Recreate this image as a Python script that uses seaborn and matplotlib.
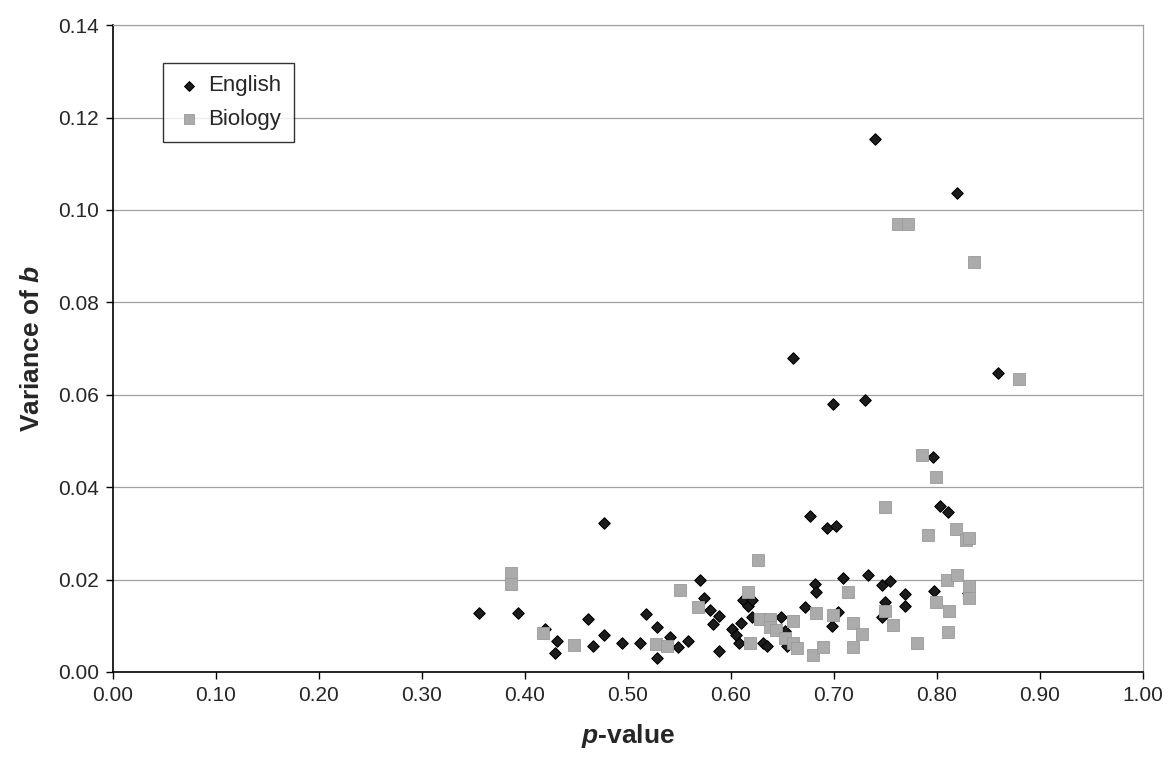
import matplotlib
matplotlib.use('Agg')
import matplotlib.pyplot as plt
import seaborn as sns
import pandas as pd

# p-value / variance of b
english_p = [0.355, 0.393, 0.420, 0.431, 0.429, 0.461, 0.466, 0.477, 0.477, 0.494,
             0.512, 0.518, 0.528, 0.528, 0.541, 0.549, 0.558, 0.570, 0.574, 0.580,
             0.589, 0.583, 0.589, 0.601, 0.605, 0.608, 0.610, 0.612, 0.617, 0.621,
             0.621, 0.631, 0.635, 0.649, 0.653, 0.655, 0.660, 0.672, 0.677, 0.682,
             0.683, 0.693, 0.698, 0.699, 0.702, 0.704, 0.709, 0.730, 0.733, 0.740,
             0.747, 0.747, 0.750, 0.755, 0.769, 0.769, 0.796, 0.797, 0.803, 0.811,
             0.820, 0.830, 0.860]
english_var = [0.0128, 0.0128, 0.0093, 0.0066, 0.0042, 0.0115, 0.0057, 0.0080, 0.0323, 0.0063,
               0.0063, 0.0125, 0.0097, 0.0030, 0.0076, 0.0054, 0.0066, 0.0199, 0.0161, 0.0134,
               0.0121, 0.0103, 0.0045, 0.0092, 0.0080, 0.0063, 0.0107, 0.0156, 0.0143, 0.0156,
               0.0118, 0.0063, 0.0056, 0.0118, 0.0089, 0.0056, 0.0679, 0.0140, 0.0338, 0.0190,
               0.0172, 0.0311, 0.0100, 0.0581, 0.0316, 0.0130, 0.0203, 0.0589, 0.0210, 0.1153,
               0.0188, 0.0118, 0.0152, 0.0197, 0.0169, 0.0143, 0.0466, 0.0176, 0.0360, 0.0347,
               0.1037, 0.0170, 0.0646]

bio_p = [0.387, 0.387, 0.418, 0.448, 0.527, 0.538, 0.551, 0.568, 0.617, 0.619,
         0.626, 0.628, 0.638, 0.638, 0.644, 0.653, 0.660, 0.660, 0.664, 0.680,
         0.683, 0.690, 0.699, 0.714, 0.719, 0.719, 0.727, 0.750, 0.750, 0.758,
         0.762, 0.772, 0.781, 0.786, 0.792, 0.799, 0.799, 0.810, 0.811, 0.812,
         0.819, 0.820, 0.828, 0.831, 0.831, 0.831, 0.836, 0.880]
bio_var = [0.0215, 0.0190, 0.0084, 0.0058, 0.0061, 0.0056, 0.0177, 0.0141, 0.0174, 0.0063,
           0.0242, 0.0114, 0.0114, 0.0098, 0.0091, 0.0073, 0.0110, 0.0062, 0.0051, 0.0037,
           0.0128, 0.0055, 0.0123, 0.0174, 0.0105, 0.0055, 0.0082, 0.0133, 0.0358, 0.0102,
           0.0970, 0.0970, 0.0063, 0.0470, 0.0296, 0.0423, 0.0152, 0.0200, 0.0087, 0.0132,
           0.0310, 0.0210, 0.0285, 0.0290, 0.0185, 0.0160, 0.0888, 0.0633]

x_ticks = [0.0, 0.1, 0.2, 0.3, 0.4, 0.5, 0.6, 0.7, 0.8, 0.9, 1.0]
y_ticks = [0.0, 0.02, 0.04, 0.06, 0.08, 0.10, 0.12, 0.14]

english = pd.DataFrame({'p': english_p, 'var': english_var})
biology = pd.DataFrame({'p': bio_p, 'var': bio_var})

sns.set_theme(style='white')
plt.rcParams['font.family'] = ['Liberation Sans', 'DejaVu Sans']
plt.rcParams['mathtext.fontset'] = 'custom'
plt.rcParams['mathtext.it'] = 'Liberation Sans:italic:bold'
plt.rcParams['mathtext.rm'] = 'Liberation Sans:bold'

fig = plt.figure(figsize=(11.7, 7.61), dpi=100)
ax = fig.add_axes([0.0966, 0.117, 0.880, 0.850])

sns.scatterplot(data=english, x='p', y='var', ax=ax, marker='D', s=34,
                color='#1c1c1c', edgecolor='#000000', linewidth=0.8,
                label='English', zorder=3)
sns.scatterplot(data=biology, x='p', y='var', ax=ax, marker='s', s=70,
                color='#ababab', edgecolor='#9a9a9a', linewidth=0.6,
                label='Biology', zorder=3)

ax.set_xlim(0, 1.0)
ax.set_ylim(0, 0.14)
ax.set_xticks(x_ticks)
ax.set_yticks(y_ticks)
ax.set_xticklabels([f'{t:.2f}' for t in x_ticks], fontsize=15)
ax.set_yticklabels([f'{t:.2f}' for t in y_ticks], fontsize=15)
ax.tick_params(axis='both', direction='out', length=5, width=1, color='black',
               bottom=True, left=True, pad=5)

ax.yaxis.grid(True, color='#a0a0a0', linewidth=0.9, linestyle='-')
ax.xaxis.grid(False)
ax.set_axisbelow(True)

for side in ['left', 'bottom']:
    ax.spines[side].set_color('black')
    ax.spines[side].set_linewidth(1.2)
for side in ['top', 'right']:
    ax.spines[side].set_color('#a0a0a0')
    ax.spines[side].set_linewidth(0.9)

ax.set_xlabel(r'$p$-value', fontsize=19, fontweight='bold', labelpad=12)
ax.set_ylabel(r'Variance of $b$', fontsize=19, fontweight='bold', labelpad=10)

leg = ax.legend(loc='upper left', bbox_to_anchor=(0.0485, 0.941), borderaxespad=0,
                fontsize=16, frameon=True, fancybox=False, edgecolor='black',
                handletextpad=0.3, borderpad=0.55, labelspacing=0.55,
                handlelength=1.2, markerscale=0.85)
leg.get_frame().set_linewidth(1.0)

fig.savefig('out.png', dpi=100)
